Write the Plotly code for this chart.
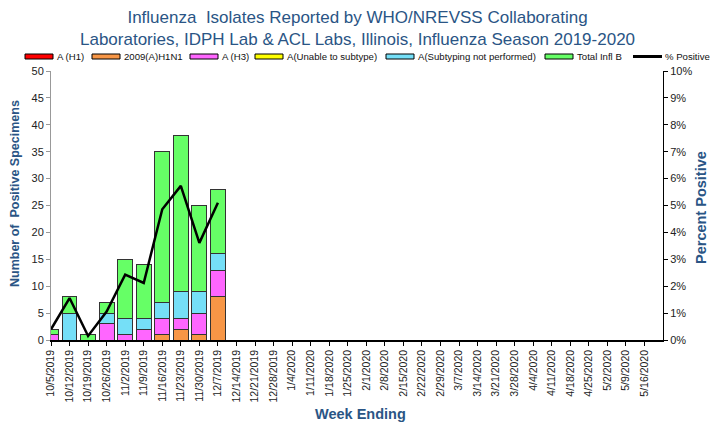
import plotly.graph_objects as go

weeks = ["10/5/2019","10/12/2019","10/19/2019","10/26/2019","11/2/2019","11/9/2019",
         "11/16/2019","11/23/2019","11/30/2019","12/7/2019","12/14/2019","12/21/2019",
         "12/28/2019","1/4/2020","1/11/2020","1/18/2020","1/25/2020","2/1/2020","2/8/2020",
         "2/15/2020","2/22/2020","2/29/2020","3/7/2020","3/14/2020","3/21/2020","3/28/2020",
         "4/4/2020","4/11/2020","4/18/2020","4/25/2020","5/2/2020","5/9/2020","5/16/2020"]

a_h1 = [0, 0, 0, 0, 0, 0, 0, 0, 0, 0]
h1n1_2009 = [0, 0, 0, 0, 0, 0, 1, 2, 1, 8]
a_h3 = [1, 0, 0, 3, 1, 2, 3, 2, 4, 5]
a_unable = [0, 0, 0, 0, 0, 0, 0, 0, 0, 0]
a_not_performed = [0, 5, 0, 2, 3, 2, 3, 5, 4, 3]
total_b = [1, 3, 1, 2, 11, 10, 28, 29, 16, 12]
pct_positive = [0.40, 1.56, 0.15, 1.06, 2.43, 2.12, 4.86, 5.73, 3.61, 5.10]

series = [
    ("A (H1)", a_h1, "#FF0000"),
    ("2009(A)H1N1", h1n1_2009, "#F79646"),
    ("A (H3)", a_h3, "#FF66FF"),
    ("A(Unable to subtype)", a_unable, "#FFFF00"),
    ("A(Subtyping not performed)", a_not_performed, "#75DFF7"),
    ("Total Infl B", total_b, "#66FF66"),
]

navy = "#2A5585"
xs = list(range(len(a_h1)))

W, H = 710, 422
L, R, T, B = 51, 47, 71, 82
PW, PH = W - L - R, H - T - B


def px_x(p):
    return (p - L) / PW


def px_y(p):
    return (H - B - p) / PH


fig = go.Figure()
for name, vals, col in series:
    fig.add_trace(go.Bar(
        x=xs, y=vals, name=name, width=0.8, showlegend=False,
        marker=dict(color=col, line=dict(color="#333333", width=1)),
    ))

fig.add_trace(go.Scatter(
    x=xs, y=pct_positive, name="% Positive", yaxis="y2", mode="lines",
    showlegend=False, line=dict(color="black", width=2.5),
))

# manual legend (pixel layout)
legend_pos = [25, 92, 190, 255, 386, 545]
shapes = []
annotations = []
ly = 56.5
for (name, vals, col), x0 in zip(series, legend_pos):
    shapes.append(dict(type="rect", xref="paper", yref="paper",
                       x0=px_x(x0), x1=px_x(x0 + 28), y0=px_y(ly + 2.5), y1=px_y(ly - 2.5),
                       fillcolor=col, line=dict(color="black", width=1)))
    annotations.append(dict(text=name, xref="paper", yref="paper",
                            x=px_x(x0 + 30), y=px_y(ly), xanchor="left", yanchor="middle",
                            showarrow=False, font=dict(size=9.6, color="#111111")))
shapes.append(dict(type="line", xref="paper", yref="paper",
                   x0=px_x(633), x1=px_x(662), y0=px_y(ly), y1=px_y(ly),
                   line=dict(color="black", width=3)))
annotations.append(dict(text="% Positive", xref="paper", yref="paper",
                        x=px_x(663), y=px_y(ly), xanchor="left", yanchor="middle",
                        showarrow=False, font=dict(size=9.6, color="#111111")))

annotations += [
    dict(text="Influenza  Isolates Reported by WHO/NREVSS Collaborating<br>Laboratories, IDPH Lab & ACL Labs, Illinois, Influenza Season 2019-2020",
         xref="paper", yref="paper", x=px_x(357), y=px_y(29), xanchor="center", yanchor="middle",
         showarrow=False, font=dict(size=17, color=navy)),
    dict(text="<b>Number of  Positive Specimens</b>", xref="paper", yref="paper",
         x=px_x(15), y=px_y(194), xanchor="center", yanchor="middle", textangle=-90,
         showarrow=False, font=dict(size=12.5, color=navy)),
    dict(text="<b>Percent Positive</b>", xref="paper", yref="paper",
         x=px_x(701), y=px_y(208), xanchor="center", yanchor="middle", textangle=-90,
         showarrow=False, font=dict(size=14.5, color=navy)),
    dict(text="<b>Week Ending</b>", xref="paper", yref="paper",
         x=px_x(360), y=px_y(414), xanchor="center", yanchor="middle",
         showarrow=False, font=dict(size=14.5, color=navy)),
]

fig.update_layout(
    width=W, height=H,
    barmode="stack", bargap=0.2,
    paper_bgcolor="white", plot_bgcolor="white",
    margin=dict(l=L, r=R, t=T, b=B, autoexpand=False),
    font=dict(family="Liberation Sans, Arial, sans-serif", size=10, color="#222222"),
    showlegend=False,
    xaxis=dict(
        range=[0, 33], tickmode="array", tickvals=list(range(len(weeks))),
        ticktext=weeks, tickangle=-90, showgrid=False, zeroline=False,
        showline=True, linecolor="black", linewidth=1.5,
        ticks="outside", ticklen=4, tickcolor="black",
        tickfont=dict(size=10.5, color="#222222"),
    ),
    yaxis=dict(
        range=[0, 50], dtick=5, showgrid=False, zeroline=False,
        showline=True, linecolor="#999999", linewidth=1,
        ticks="outside", ticklen=4, tickcolor="#999999",
        tickfont=dict(size=11, color="#222222"),
    ),
    yaxis2=dict(
        range=[0, 10], dtick=1, overlaying="y", side="right",
        ticksuffix="%", showgrid=False, zeroline=False,
        showline=True, linecolor="black", linewidth=1,
        ticks="outside", ticklen=4, tickcolor="black",
        tickfont=dict(size=11, color="#222222"),
    ),
    shapes=shapes,
    annotations=annotations,
)

fig.write_html(
    "out.html",
    config={"displayModeBar": False},
    post_script="document.body.style.margin='0';document.body.style.padding='0';document.body.style.overflow='hidden';",
)
